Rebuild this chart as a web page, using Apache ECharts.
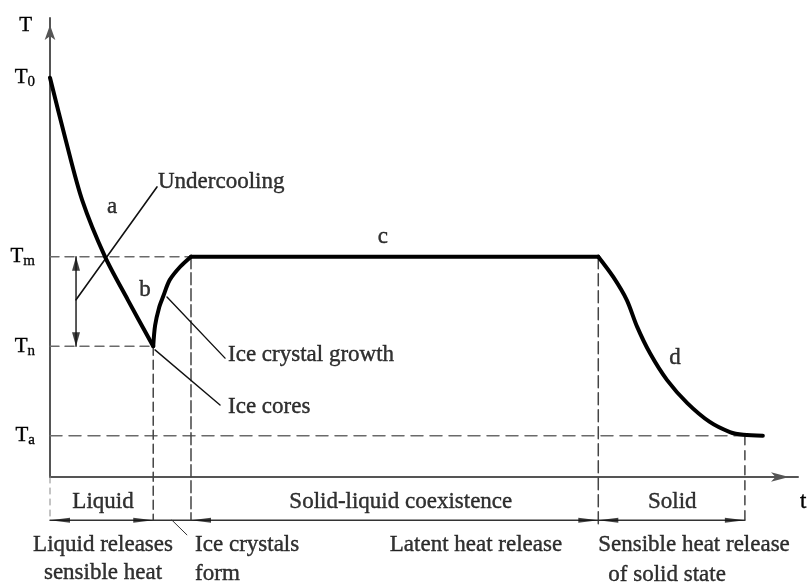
<!DOCTYPE html>
<html><head><meta charset="utf-8">
<script src="https://cdn.jsdelivr.net/npm/echarts@6/dist/echarts.min.js"></script>
<style>html,body{margin:0;padding:0;background:#fff}#c{width:807px;height:582px}</style>
</head><body><div id="c"></div>
<script>
// ---- temperature levels (arbitrary units, 0..100) ----
const T0 = 87, Tm = 48, Tn = 28.5, Ta = 9;
const levelValues = [T0, Tm, Tn, Ta];
const levelSubs = ['0', 'm', 'n', 'a'];
// ---- time marks (arbitrary units, 0..100) ----
const tNucleate = 13.8, tPlateauStart = 18.85, tPlateauEnd = 73.3, tSolidEnd = 92.9, tEnd = 95.3;
const bracketY = -9.4;   // level of the phase bracket line below the time axis

// ---- cooling curve segments [t, T] ----
const curveA = [[0, 87], [2.1, 73.4], [4.3, 60.3], [7.35, 48], [10.4, 38.6], [13.8, 28.5]];
const curveB = [[13.8, 28.5], [14.05, 33], [14.6, 37], [15.1, 39.2], [16.0, 42.9], [17.4, 45.8], [18.85, 48]];
const curveC = [[18.85, 48], [73.3, 48]];
const curveD = [[73.3, 48], [75.3, 43.6], [77.1, 38.6], [78.5, 32.7], [80.2, 27], [82.5, 21.1], [85.2, 16.1], [88.2, 12], [90.9, 9.8], [92.7, 9.2], [95.3, 9]];

// ---- leader lines ----
const undercoolLeader = [[3.48, 38.6], [14.3, 63.2]];
const growthLeader = [[15.64, 39.2], [23.4, 25.9]];
const coresLeader = [[14.04, 27.7], [22.73, 15.7]];
const formLeader = [[16.3, -9.4], [18.3, -12.6]];

// ---- annotations [text, t, T, align] ----
const annotations = [
  ['Undercooling', 14.44, 64.3, 'left'],
  ['a', 8.29, 58.8, 'center'],
  ['b', 12.7, 40.7, 'center'],
  ['c', 44.5, 52.3, 'center'],
  ['d', 83.56, 25.9, 'center'],
  ['Ice crystal growth', 23.8, 26.6, 'left'],
  ['Ice cores', 23.8, 15.25, 'left'],
  ['Liquid', 7.09, -5.45, 'center'],
  ['Solid-liquid coexistence', 46.9, -5.45, 'center'],
  ['Solid', 83.2, -5.45, 'center'],
  ['Liquid releases', 7.09, -14.8, 'center'],
  ['sensible heat', 7.09, -20.9, 'center'],
  ['Ice crystals', 19.4, -14.8, 'left'],
  ['form', 19.4, -21.1, 'left'],
  ['Latent heat release', 56.95, -14.8, 'center'],
  ['Sensible heat release', 86.1, -14.8, 'center'],
  ['of solid state', 82.5, -21.4, 'center']
];

const FONT = '"Liberation Serif", "Times New Roman", serif';
const INK = '#000';
const DASH = '#6a6a6a';

function seg(data, color, width, type) {
  return { type: 'line', data: data, clip: false, symbol: 'none', silent: true, z: 2,
    lineStyle: { color: color, width: width, type: type || 'solid', cap: 'round', join: 'round' } };
}
function curve(data) {
  return { type: 'line', data: data, clip: false, symbol: 'none', silent: true, z: 5, smooth: 0.3,
    lineStyle: { color: '#000', width: 4, cap: 'round', join: 'round' } };
}
const ARROW = 'path://M5 0 L10 30 L0 30 Z';
function arrowHeads(points, rot, offset, size) {
  return { type: 'scatter', clip: false, silent: true, z: 4, symbol: ARROW, symbolSize: size,
    symbolRotate: rot, symbolOffset: offset, itemStyle: { color: '#111' }, data: points };
}

const series = [
  // dashed reference lines
  seg([[0, Tm], [tPlateauStart, Tm]], DASH, 1.5, [9, 6]),
  seg([[0, Tn], [tNucleate, Tn]], DASH, 1.5, [9, 6]),
  seg([[0, Ta], [tSolidEnd, Ta]], DASH, 1.5, [12, 7]),
  seg([[tNucleate, Tn], [tNucleate, bracketY]], '#444', 1.5, [9, 5]),
  seg([[tPlateauStart, Tm], [tPlateauStart, bracketY]], '#444', 1.5, [12, 4]),
  seg([[tPlateauEnd, Tm], [tPlateauEnd, bracketY - 1]], '#444', 1.5, [12, 5]),
  seg([[tSolidEnd, Ta], [tSolidEnd, bracketY]], '#444', 1.5, [9, 6]),
  seg([[0, 0], [0, bracketY]], '#888', 1, [6, 5]),
  // bracket base line
  seg([[0, bracketY], [tSolidEnd, bracketY]], '#333', 1.5),
  // undercooling double arrow
  seg([[3.48, Tm], [3.48, Tn]], '#222', 1.5),
  // leader lines
  seg(undercoolLeader, '#111', 1.6),
  seg(growthLeader, '#111', 1.4),
  seg(coresLeader, '#111', 1.4),
  seg(formLeader, '#333', 1),
  // curve
  curve(curveA), curve(curveB), curve(curveC), curve(curveD),
  // arrow heads
  arrowHeads([[3.48, Tm]], 0, [0, 7], [8, 14]),
  arrowHeads([[3.48, Tn]], 180, [0, -7], [8, 14]),
  arrowHeads([[tNucleate, bracketY], [tPlateauEnd, bracketY], [tSolidEnd, bracketY]], -90, [-10, 0], [5, 20]),
  arrowHeads([[0, bracketY], [tPlateauStart, bracketY], [tPlateauEnd, bracketY]], 90, [10, 0], [5, 20]),
  // annotations
  { type: 'scatter', clip: false, silent: true, z: 6, symbolSize: 0,
    data: annotations.map(a => ({ name: a[0], value: [a[1], a[2]],
      label: { align: a[3] } })),
    label: { show: true, position: 'inside', formatter: p => p.name, color: INK,
      fontFamily: FONT, fontSize: 23, verticalAlign: 'middle',
      textBorderColor: '#000', textBorderWidth: 0.4 } }
];

const chart = echarts.init(document.getElementById('c'), null, { renderer: 'canvas' });
chart.setOption({
  backgroundColor: '#ffffff',
  animation: false,
  grid: { left: 50, right: 9, top: 18, bottom: 105, containLabel: false, outerBoundsMode: 'none' },
  xAxis: {
    type: 'value', min: 0, max: 100,
    name: 't', nameLocation: 'end', nameGap: 2,
    nameTextStyle: { fontFamily: FONT, fontSize: 23, color: INK, align: 'left', verticalAlign: 'top', padding: [13, 0, 0, 0], textBorderColor: '#000', textBorderWidth: 0.4 },
    axisLine: { show: true, lineStyle: { color: '#555', width: 2 }, symbol: ['none', 'arrow'], symbolSize: [7, 18], symbolOffset: [0, -9] },
    axisTick: { show: false }, axisLabel: { show: false }, splitLine: { show: false }
  },
  yAxis: {
    type: 'value', min: 0, max: 100,
    name: 'T', nameLocation: 'end', nameGap: -7,
    nameTextStyle: { fontFamily: FONT, fontSize: 21, color: INK, align: 'right', verticalAlign: 'middle', padding: [0, 18, 0, 0], textBorderColor: '#000', textBorderWidth: 0.4 },
    axisLine: { show: true, lineStyle: { color: '#555', width: 2 }, symbol: ['none', 'arrow'], symbolSize: [8, 15], symbolOffset: [0, -7] },
    axisTick: { show: false }, splitLine: { show: false },
    axisLabel: {
      show: true, customValues: levelValues, margin: 15,
      formatter: function (v) {
        const i = levelValues.indexOf(v);
        return '{t|T}{s|' + (i >= 0 ? levelSubs[i] : '') + '}';
      },
      rich: {
        t: { fontFamily: FONT, fontSize: 21, color: INK, lineHeight: 24, verticalAlign: 'middle', textBorderColor: '#000', textBorderWidth: 0.4 },
        s: { fontFamily: FONT, fontSize: 15, color: INK, lineHeight: 14, verticalAlign: 'bottom', textBorderColor: '#000', textBorderWidth: 0.3 }
      }
    }
  },
  series: series
});
</script>
</body></html>
